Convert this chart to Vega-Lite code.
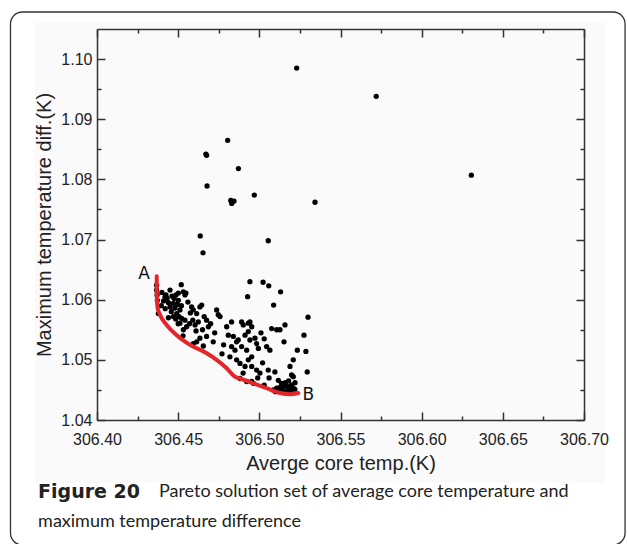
{
 "$schema": "https://vega.github.io/schema/vega-lite/v6.json",
 "width": 487, "height": 391,
 "autosize": "none",
 "padding": {"left": 97, "top": 29, "right": 43, "bottom": 124},
 "background": "white",
 "config": {
  "view": {"stroke": null},
  "axis": {"grid": false, "domain": false, "domainColor": "#333", "domainWidth": 1.5, "tickColor": "#333", "tickWidth": 1.5, "labelFont": "Liberation Sans", "labelFontSize": 16, "labelColor": "#222", "titleFont": "Liberation Sans", "titleFontSize": 20, "titleFontWeight": "normal", "titleColor": "#222", "labelFlush": false}
 },
 "datasets": {
  "pts": [
   {"x":306.523,"y":1.0985},{"x":306.572,"y":1.0938},{"x":306.6306,"y":1.0807},{"x":306.4805,"y":1.0865},{"x":306.4671,"y":1.0842},{"x":306.4675,"y":1.0840},{"x":306.4871,"y":1.0818},{"x":306.4678,"y":1.0789},{"x":306.4969,"y":1.0774},{"x":306.4824,"y":1.0765},{"x":306.4844,"y":1.0764},{"x":306.4830,"y":1.0760},{"x":306.5343,"y":1.0762},{"x":306.4636,"y":1.0706},{"x":306.4653,"y":1.0678},{"x":306.5055,"y":1.0698},{"x":306.4942,"y":1.0630},{"x":306.5023,"y":1.0629},{"x":306.5058,"y":1.0623},{"x":306.5131,"y":1.0613},{"x":306.4928,"y":1.0605},{"x":306.5088,"y":1.0591},{"x":306.5300,"y":1.0571},{"x":306.4519,"y":1.0625},
   {"x":306.4367,"y":1.0624},{"x":306.4367,"y":1.0616},{"x":306.4370,"y":1.0608},{"x":306.4372,"y":1.0599},{"x":306.4378,"y":1.0577},{"x":306.4419,"y":1.0605},{"x":306.4425,"y":1.0608},{"x":306.4450,"y":1.0616},{"x":306.4501,"y":1.0611},{"x":306.4532,"y":1.0613},{"x":306.4542,"y":1.0608},{"x":306.4548,"y":1.0611},{"x":306.4470,"y":1.0594},{"x":306.4480,"y":1.0586},{"x":306.4450,"y":1.0588},{"x":306.4491,"y":1.0577},{"x":306.4501,"y":1.0599},{"x":306.4511,"y":1.0583},{"x":306.4583,"y":1.0588},{"x":306.4593,"y":1.0583},{"x":306.4614,"y":1.0577},{"x":306.4634,"y":1.0588},{"x":306.4645,"y":1.0591},{"x":306.4521,"y":1.0569},{"x":306.4542,"y":1.0566},{"x":306.4511,"y":1.0561},{"x":306.4552,"y":1.0555},{"x":306.4532,"y":1.0550},{"x":306.4604,"y":1.0558},{"x":306.4624,"y":1.0563},{"x":306.4675,"y":1.0566},{"x":306.4686,"y":1.0555},{"x":306.4737,"y":1.0583},{"x":306.4747,"y":1.0575},{"x":306.4758,"y":1.0572},{"x":306.4675,"y":1.0539},{"x":306.4716,"y":1.0530},{"x":306.4614,"y":1.0530},{"x":306.4634,"y":1.0536},{"x":306.4593,"y":1.0527},
   {"x":306.4400,"y":1.0612},{"x":306.4410,"y":1.0598},{"x":306.4432,"y":1.0602},{"x":306.4440,"y":1.0595},{"x":306.4462,"y":1.0606},{"x":306.4475,"y":1.0602},{"x":306.4486,"y":1.0608},{"x":306.4495,"y":1.0592},{"x":306.4458,"y":1.0580},{"x":306.4470,"y":1.0572},{"x":306.4485,"y":1.0568},{"x":306.4505,"y":1.0572},{"x":306.4520,"y":1.0590},{"x":306.4560,"y":1.0596},{"x":306.4575,"y":1.0578},{"x":306.4570,"y":1.0560},{"x":306.4590,"y":1.0566},{"x":306.4610,"y":1.0548},{"x":306.4650,"y":1.0550},{"x":306.4660,"y":1.0572},{"x":306.4700,"y":1.0560},{"x":306.4725,"y":1.0545},{"x":306.4655,"y":1.0523},{"x":306.4440,"y":1.0570},{"x":306.4420,"y":1.0585},{"x":306.4396,"y":1.0590},{"x":306.4500,"y":1.0560},{"x":306.4530,"y":1.0540},
   {"x":306.4829,"y":1.0563},{"x":306.4799,"y":1.0555},{"x":306.4809,"y":1.0541},{"x":306.4840,"y":1.0539},{"x":306.4860,"y":1.0530},{"x":306.4829,"y":1.0522},{"x":306.4850,"y":1.0516},{"x":306.4819,"y":1.0505},{"x":306.4870,"y":1.0533},{"x":306.4891,"y":1.0563},{"x":306.4901,"y":1.0558},{"x":306.4932,"y":1.0561},{"x":306.4942,"y":1.0563},{"x":306.4953,"y":1.0555},{"x":306.4932,"y":1.0547},{"x":306.4912,"y":1.0541},{"x":306.4942,"y":1.0533},{"x":306.4973,"y":1.0536},{"x":306.4891,"y":1.0522},{"x":306.4922,"y":1.0516},{"x":306.4953,"y":1.0505},{"x":306.4932,"y":1.0500},{"x":306.4881,"y":1.0494},{"x":306.4912,"y":1.0489},{"x":306.4953,"y":1.0489},{"x":306.4983,"y":1.0527},{"x":306.4994,"y":1.0519},{"x":306.5045,"y":1.0522},{"x":306.5065,"y":1.0516},{"x":306.5076,"y":1.0552},{"x":306.5107,"y":1.0550},{"x":306.5127,"y":1.0550},{"x":306.5158,"y":1.0558},{"x":306.5152,"y":1.0530},{"x":306.4983,"y":1.0483},{"x":306.5004,"y":1.0478},{"x":306.5055,"y":1.0483},{"x":306.5096,"y":1.0480},{"x":306.5117,"y":1.0466},{"x":306.5137,"y":1.0461},{"x":306.5189,"y":1.0489},{"x":306.5199,"y":1.0475},{"x":306.5209,"y":1.0472},
   {"x":306.4780,"y":1.0525},{"x":306.4770,"y":1.0510},{"x":306.4860,"y":1.0500},{"x":306.4900,"y":1.0478},{"x":306.5020,"y":1.0495},{"x":306.5030,"y":1.0535},{"x":306.5010,"y":1.0545},
   {"x":306.5086,"y":1.0450},{"x":306.5107,"y":1.0453},{"x":306.5127,"y":1.0454},{"x":306.5148,"y":1.0455},{"x":306.5168,"y":1.0457},{"x":306.5189,"y":1.0454},{"x":306.5209,"y":1.0453},{"x":306.5219,"y":1.0451},{"x":306.5199,"y":1.0458},{"x":306.5178,"y":1.0450},{"x":306.5148,"y":1.0449},{"x":306.5127,"y":1.0449},{"x":306.5234,"y":1.0516},{"x":306.5287,"y":1.0514},{"x":306.5275,"y":1.0541},{"x":306.5295,"y":1.0480},{"x":306.5209,"y":1.0500},{"x":306.4953,"y":1.0464},{"x":306.4963,"y":1.0461},{"x":306.4922,"y":1.0464},{"x":306.4881,"y":1.0469},
   {"x":306.5160,"y":1.0462},{"x":306.5180,"y":1.0465},{"x":306.5220,"y":1.0462},{"x":306.5060,"y":1.0470},{"x":306.5030,"y":1.0458},{"x":306.4990,"y":1.0470},{"x":306.5170,"y":1.0446},{"x":306.5195,"y":1.0447},{"x":306.5100,"y":1.0447}
  ],
  "curve": [
   {"i":0,"x":306.4368,"y":1.0639},{"i":1,"x":306.4368,"y":1.0611},{"i":2,"x":306.4372,"y":1.0588},{"i":3,"x":306.4388,"y":1.0575},{"i":4,"x":306.4429,"y":1.0558},{"i":5,"x":306.4491,"y":1.0541},{"i":6,"x":306.4573,"y":1.0525},{"i":7,"x":306.4676,"y":1.0511},{"i":8,"x":306.4737,"y":1.0500},{"i":9,"x":306.4799,"y":1.0486},{"i":10,"x":306.4850,"y":1.0472},{"i":11,"x":306.4881,"y":1.0469},{"i":12,"x":306.4963,"y":1.0461},{"i":13,"x":306.5045,"y":1.0453},{"i":14,"x":306.5127,"y":1.0445},{"i":15,"x":306.5189,"y":1.0443},{"i":16,"x":306.5240,"y":1.0445}
  ],
  "ab": [{"x":306.4290,"y":1.0643,"t":"A"},{"x":306.5302,"y":1.0442,"t":"B"}]
 },
 "resolve": {"axis": {"x": "independent", "y": "independent"}},
 "layer": [
  {
   "data": {"values": [{}]},
   "mark": {"type": "rect", "fill": "#fafafa", "stroke": null},
   "encoding": {
    "x": {"datum": 306.3618, "type": "quantitative", "scale": {"domain": [306.4, 306.7], "nice": false, "zero": false}, "axis": null},
    "x2": {"datum": 306.71294},
    "y": {"datum": 1.10616, "type": "quantitative", "scale": {"domain": [1.04, 1.105], "nice": false, "zero": false}, "axis": null},
    "y2": {"datum": 1.02953}
   }
  },
  {
   "data": {"values": [{}]},
   "mark": {"type": "rect", "fill": null, "stroke": "#333", "strokeWidth": 1.3, "cornerRadius": 12},
   "encoding": {
    "x": {"datum": 306.3467, "type": "quantitative", "scale": {"domain": [306.4, 306.7], "nice": false, "zero": false}, "axis": {"zindex": 1, "orient": "top", "values": [306.425,306.475,306.525,306.575,306.625,306.675], "labels": false, "tickSize": -4, "title": null}},
    "x2": {"datum": 306.7253},
    "y": {"datum": 1.10783, "type": "quantitative", "scale": {"domain": [1.04, 1.105], "nice": false, "zero": false}, "axis": {"zindex": 1, "orient": "right", "values": [1.045,1.055,1.065,1.075,1.085,1.095], "labels": false, "tickSize": -4, "title": null}},
    "y2": {"datum": 1.01922}
   }
  },
  {
   "data": {"name": "pts"},
   "mark": {"type": "circle", "size": 28, "color": "#000", "opacity": 1},
   "encoding": {
    "x": {"field": "x", "type": "quantitative", "scale": {"domain": [306.4, 306.7], "nice": false, "zero": false}, "axis": {"zindex": 1, "orient": "bottom", "domain": true, "values": [306.4,306.45,306.5,306.55,306.6,306.65,306.7], "format": ".2f", "tickSize": -8, "labelPadding": 19, "title": "Averge core temp.(K)", "titlePadding": 6}},
    "y": {"field": "y", "type": "quantitative", "scale": {"domain": [1.04, 1.105], "nice": false, "zero": false}, "axis": {"zindex": 1, "orient": "left", "domain": true, "values": [1.04,1.05,1.06,1.07,1.08,1.09,1.1], "format": ".2f", "tickSize": -8, "labelPadding": 13, "title": "Maximum temperature diff.(K)", "titlePadding": 6}}
   }
  },
  {
   "data": {"name": "curve"},
   "mark": {"type": "line", "color": "#e3262b", "strokeWidth": 4, "strokeCap": "round", "interpolate": "monotone"},
   "encoding": {
    "x": {"field": "x", "type": "quantitative", "scale": {"domain": [306.4, 306.7], "nice": false, "zero": false}, "axis": {"zindex": 1, "orient": "top", "domain": true, "values": [306.4,306.45,306.5,306.55,306.6,306.65,306.7], "labels": false, "tickSize": -8, "title": null}},
    "y": {"field": "y", "type": "quantitative", "scale": {"domain": [1.04, 1.105], "nice": false, "zero": false}, "axis": {"zindex": 1, "orient": "right", "domain": true, "values": [1.04,1.05,1.06,1.07,1.08,1.09,1.1], "labels": false, "tickSize": -8, "title": null}},
    "order": {"field": "i", "type": "quantitative"}
   }
  },
  {
   "data": {"name": "ab"},
   "mark": {"type": "text", "font": "DejaVu Sans", "fontSize": 17, "color": "#111", "align": "center", "baseline": "middle"},
   "encoding": {
    "x": {"field": "x", "type": "quantitative", "scale": {"domain": [306.4, 306.7], "nice": false, "zero": false}, "axis": {"zindex": 1, "orient": "bottom", "values": [306.425,306.475,306.525,306.575,306.625,306.675], "labels": false, "tickSize": -4, "title": null}},
    "y": {"field": "y", "type": "quantitative", "scale": {"domain": [1.04, 1.105], "nice": false, "zero": false}, "axis": {"zindex": 1, "orient": "left", "values": [1.045,1.055,1.065,1.075,1.085,1.095], "labels": false, "tickSize": -4, "title": null}},
    "text": {"field": "t"}
   }
  },
  {
   "data": {"values": [{}]},
   "mark": {"type": "text", "font": "DejaVu Sans", "fontSize": 19, "fontWeight": "bold", "color": "#222", "align": "left", "baseline": "middle"},
   "encoding": {
    "x": {"datum": 306.3637, "type": "quantitative", "axis": null},
    "y": {"datum": 1.02803, "type": "quantitative", "axis": null},
    "text": {"value": "Figure 20"}
   }
  },
  {
   "data": {"values": [{}]},
   "mark": {"type": "text", "font": "Lato", "fontSize": 18, "color": "#222", "align": "left", "baseline": "middle"},
   "encoding": {
    "x": {"datum": 306.43814, "type": "quantitative", "axis": null},
    "y": {"datum": 1.02803, "type": "quantitative", "axis": null},
    "text": {"value": "Pareto solution set of average core temperature and"}
   }
  },
  {
   "data": {"values": [{}]},
   "mark": {"type": "text", "font": "Lato", "fontSize": 18, "color": "#222", "align": "left", "baseline": "middle"},
   "encoding": {
    "x": {"datum": 306.3637, "type": "quantitative", "axis": null},
    "y": {"datum": 1.02304, "type": "quantitative", "axis": null},
    "text": {"value": "maximum temperature difference"}
   }
  }
 ]
}
